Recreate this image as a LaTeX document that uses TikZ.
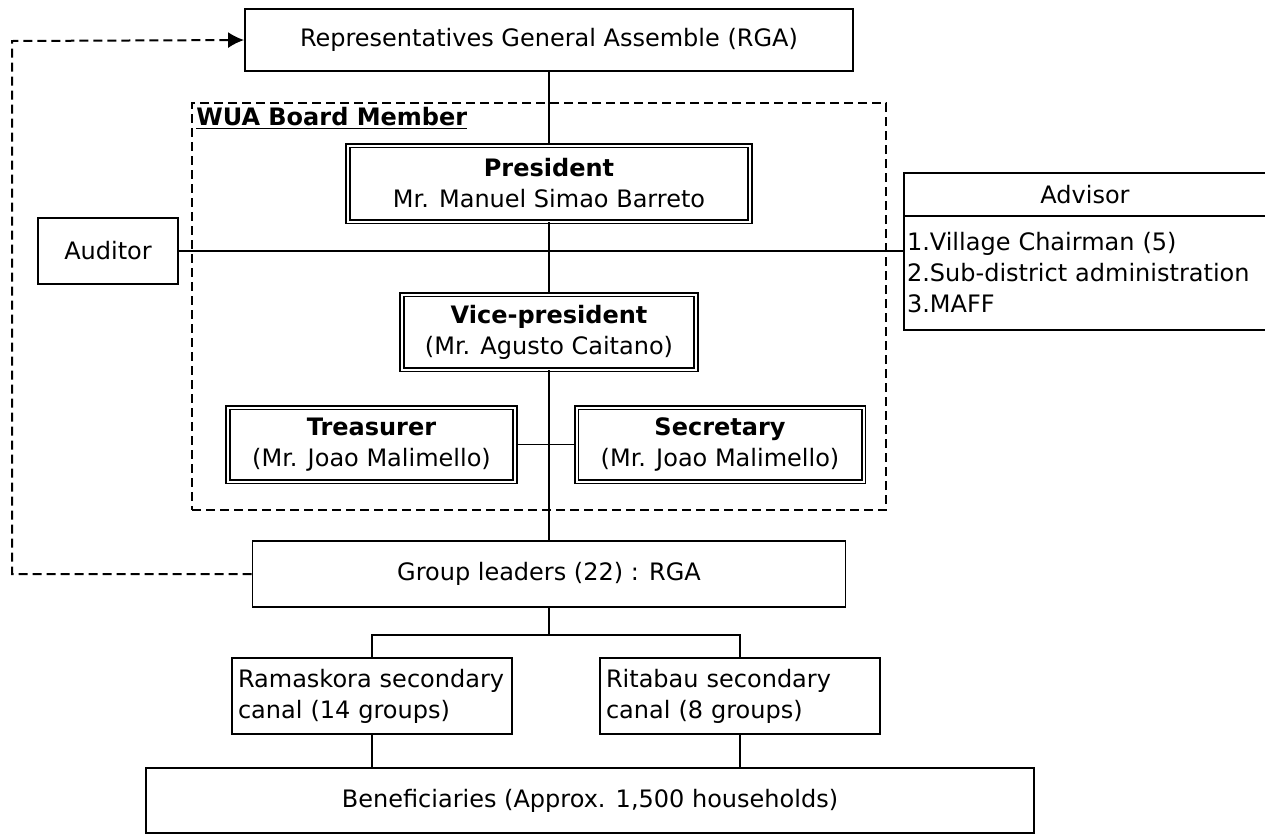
\documentclass[tikz,border=0pt]{standalone}
\usepackage{fontspec}
\setmainfont{DejaVu Sans}
\usetikzlibrary{positioning,arrows.meta}

\tikzset{
  box/.style={draw,rectangle,line width=0.9pt,inner sep=2pt,align=center},
  officer/.style={box,double,double distance=1pt,line width=0.85pt},
  canal/.style={box,align=left,text width=134pt,inner sep=3pt},
  wuaframe/.style={draw,line width=1.1pt,dash pattern=on 4.5pt off 2.5pt},
  link/.style={line width=0.9pt},
  feedback/.style={line width=1pt,dash pattern=on 4.5pt off 2.5pt,-{Latex[length=8pt,width=8pt]}}
}

\begin{document}
\begin{tikzpicture}[x=0.5pt,y=-0.5pt,on grid,font=\fontsize{12pt}{15.5pt}\selectfont]
      \useasboundingbox (0,0) rectangle (1265,836);
      \node[wuaframe,minimum width=347pt,minimum height=203.5pt] (wua) at (539,306.5) {};
      \node[anchor=north west,inner sep=2.5pt] (wualabel) at (wua.north west) {\underline{\textbf{WUA Board Member}}};
      \node[box,minimum width=304pt,minimum height=31pt] (rga) at (549,40) {Representatives General Assemble (RGA)};
      \node[officer,minimum width=201pt,minimum height=38pt,below =71.75pt of rga] (pres) {\textbf{President}\\Mr. Manuel Simao Barreto};
      \node[officer,minimum width=147pt,minimum height=37.5pt,below =74.25pt of pres] (vp) {\textbf{Vice-president}\\(Mr. Agusto Caitano)};
      \node[officer,minimum width=143.5pt,minimum height=37pt,below left =56.25pt and 88.75pt of vp] (tre) {\textbf{Treasurer}\\(Mr. Joao Malimello)};
      \node[officer,minimum width=143.5pt,minimum height=37pt,below right =56.25pt and 85.5pt of vp] (sec) {\textbf{Secretary}\\(Mr. Joao Malimello)};
      \node[box,minimum width=70pt,minimum height=33pt,below left =33.75pt and 220.5pt of pres] (aud) {Auditor};
      \node[box,minimum width=181pt,minimum height=21.5pt,below right =5.5pt and 268pt of pres] (advhead) {Advisor};
      \node[box,align=left,text width=178pt,inner sep=1.5pt,minimum height=57pt,below =39.25pt of advhead] (advbody) {1.Village Chairman (5)\\2.Sub-district administration\\3.MAFF};
      \node[box,minimum width=296.5pt,minimum height=33pt,below =121pt of vp] (gl) {Group leaders (22) : RGA};
      \node[canal,minimum height=38pt,below left =61pt and 88.5pt of gl] (ram) {Ramaskora secondary\\canal (14 groups)};
      \node[canal,minimum height=38pt,below right =61pt and 95.5pt of gl] (rit) {Ritabau secondary\\canal (8 groups)};
      \node[box,minimum width=444pt,minimum height=32.5pt,below right =113.25pt and 20.5pt of gl] (ben) {Beneficiaries (Approx. 1,500 households)};
      \path[link]
      (pres.north) edge (pres.north |- rga.south)
      (pres.south) edge (vp.north)
      (vp.south) edge (gl.north)
      (tre.east) edge (sec.west)
      (aud.east) edge (aud.east -| advbody.west)
      (ram.south) edge (ram.south |- ben.north)
      (rit.south) edge (rit.south |- ben.north)
      ;
      \draw[link] (gl.south) -- ++(0,27) coordinate (fork);
      \draw[link] (ram.north) |- (fork) -| (rit.north);
      \coordinate (back) at (12,41);
      \draw[feedback] (gl.west) -| (back) -- (rga.west);
    \end{tikzpicture}
\end{document}
